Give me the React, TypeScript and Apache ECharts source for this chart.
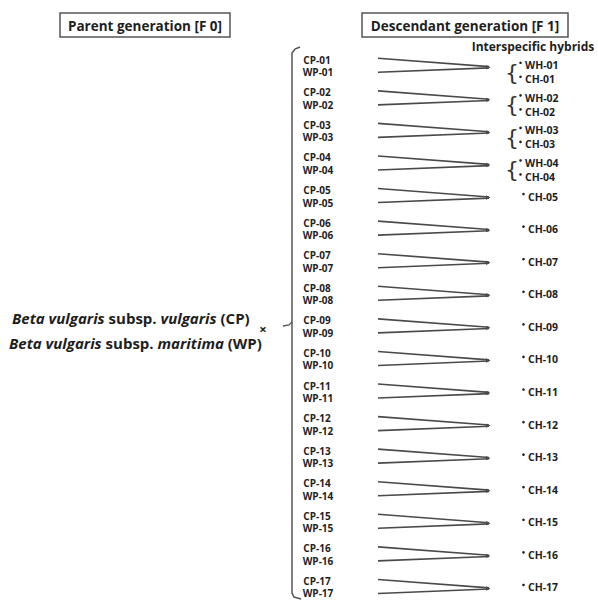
import React, { useEffect, useRef } from "react";
import * as echarts from "echarts";

const parentsCP = ["CP-01","CP-02","CP-03","CP-04","CP-05","CP-06","CP-07","CP-08","CP-09","CP-10","CP-11","CP-12","CP-13","CP-14","CP-15","CP-16","CP-17"];
const parentsWP = ["WP-01","WP-02","WP-03","WP-04","WP-05","WP-06","WP-07","WP-08","WP-09","WP-10","WP-11","WP-12","WP-13","WP-14","WP-15","WP-16","WP-17"];
const hybridsWH = ["WH-01","WH-02","WH-03","WH-04","","","","","","","","","","","","",""];
const hybridsCH = ["CH-01","CH-02","CH-03","CH-04","CH-05","CH-06","CH-07","CH-08","CH-09","CH-10","CH-11","CH-12","CH-13","CH-14","CH-15","CH-16","CH-17"];
const rowIndex = parentsCP.map((_, i) => i);

const FONT = "'Open Sans', sans-serif";
const INK = "#1e1e1e";
const LINE = "#4a4a4a";

export default function App() {
  const ref = useRef<HTMLDivElement>(null);
  useEffect(() => {
    if (!ref.current) return;
    const chart = echarts.init(ref.current, undefined, { renderer: "svg" });

    const renderItem = (params: any, api: any) => {
      const i = api.value(1);
      const y0 = api.coord([0, i])[1];
      const X = (v: number) => api.coord([v, i])[0];
      const children: any[] = [];
      const lbl = (text: string, x: number, y: number, align = "center") => ({
        type: "text",
        style: { text, x, y, align, verticalAlign: "middle", font: `bold 10px ${FONT}`, lineHeight: 11, fill: INK },
      });
      children.push(lbl(parentsCP[i], X(317), y0 - 0.5));
      children.push(lbl(parentsWP[i], X(318), y0 + 12));
      const endX = X(489);
      const endY = y0 + 7;
      children.push({ type: "line", shape: { x1: X(378), y1: y0 - 2, x2: endX, y2: endY - 0.6 }, style: { stroke: LINE, lineWidth: 1.6 } });
      children.push({ type: "line", shape: { x1: X(378), y1: y0 + 12, x2: endX, y2: endY + 0.6 }, style: { stroke: LINE, lineWidth: 1.6 } });
      children.push({ type: "polygon", shape: { points: [[endX + 1.5, endY], [endX - 3, endY - 2.2], [endX - 3, endY + 2.2]] }, style: { fill: LINE } });

      const hl = (text: string, y: number, xText: number) => [
        { type: "circle", shape: { cx: xText - 4.5, cy: y - 2.5, r: 1.3 }, style: { fill: INK } },
        { type: "text", style: { text, x: xText, y, align: "left", verticalAlign: "middle", font: `bold 10.5px ${FONT}`, lineHeight: 12, fill: INK } },
      ];
      if (hybridsWH[i]) {
        children.push({ type: "text", style: { text: "{", x: X(512), y: y0 + 12, align: "center", verticalAlign: "middle", font: `normal 22px 'DejaVu Sans', sans-serif`, fill: "#333" } });
        children.push(...hl(hybridsWH[i], y0 + 5, X(525)));
        children.push(...hl(hybridsCH[i], y0 + 19, X(525)));
      } else {
        children.push(...hl(hybridsCH[i], y0 + 6, X(528)));
      }
      return { type: "group", children };
    };

    const italic = { fontStyle: "italic", fontWeight: "bold", fontSize: 15, fontFamily: FONT, fill: INK };
    const normal = { fontStyle: "normal", fontWeight: "bold", fontSize: 15, fontFamily: FONT, fill: INK };

    chart.setOption({
      animation: false,
      grid: { left: 0, right: 0, top: 0, bottom: 0 },
      xAxis: { type: "value", min: 0, max: 598, show: false },
      yAxis: { type: "value", min: -1.85, max: 16.6, inverse: true, show: false },
      series: [
        {
          type: "custom",
          clip: false,
          renderItem,
          encode: { x: 0, y: 1 },
          data: rowIndex.map((i) => [0, i]),
        },
      ],
      graphic: [
        { type: "rect", shape: { x: 60, y: 13, width: 170, height: 24 }, style: { fill: "none", stroke: "#555", lineWidth: 1.5 } },
        { type: "text", style: { text: "Parent generation [F 0]", x: 145, y: 25.5, align: "center", verticalAlign: "middle", font: `bold 13.5px ${FONT}`, fill: INK } },
        { type: "rect", shape: { x: 362, y: 13, width: 206, height: 24 }, style: { fill: "none", stroke: "#555", lineWidth: 1.5 } },
        { type: "text", style: { text: "Descendant generation [F 1]", x: 465, y: 25.5, align: "center", verticalAlign: "middle", font: `bold 13.5px ${FONT}`, fill: INK } },
        { type: "text", style: { text: "Interspecific hybrids", x: 533, y: 46, align: "center", verticalAlign: "middle", font: `bold 12px ${FONT}`, fill: INK } },
        {
          type: "text",
          style: {
            text: "{i|Beta vulgaris}{n| subsp. }{i|vulgaris}{n| (CP)}",
            x: 12, y: 318, align: "left", verticalAlign: "middle",
            font: `bold 15px ${FONT}`, fill: INK,
            rich: { i: italic, n: normal },
          },
        },
        {
          type: "text",
          style: {
            text: "{i|Beta vulgaris}{n| subsp. }{i|maritima}{n| (WP)}",
            x: 9, y: 343, align: "left", verticalAlign: "middle",
            font: `bold 15px ${FONT}`, fill: INK,
            rich: { i: italic, n: normal },
          },
        },
        { type: "text", style: { text: "×", x: 263, y: 329, align: "center", verticalAlign: "middle", font: `bold 13px ${FONT}`, fill: INK } },
        { type: "polyline", shape: { points: [[300, 47], [295, 49], [292, 53], [292, 593], [294, 597], [301, 599]] }, style: { stroke: "#555", lineWidth: 1.5, fill: "none" } },
        { type: "polyline", shape: { points: [[283, 326], [289, 325], [292, 322]] }, style: { stroke: "#555", lineWidth: 1.3, fill: "none" } },
      ],
    });
    return () => chart.dispose();
  }, []);
  return <div ref={ref} style={{ position: "absolute", left: 0, top: 0, width: 598, height: 601, background: "#fff" }} />;
}
